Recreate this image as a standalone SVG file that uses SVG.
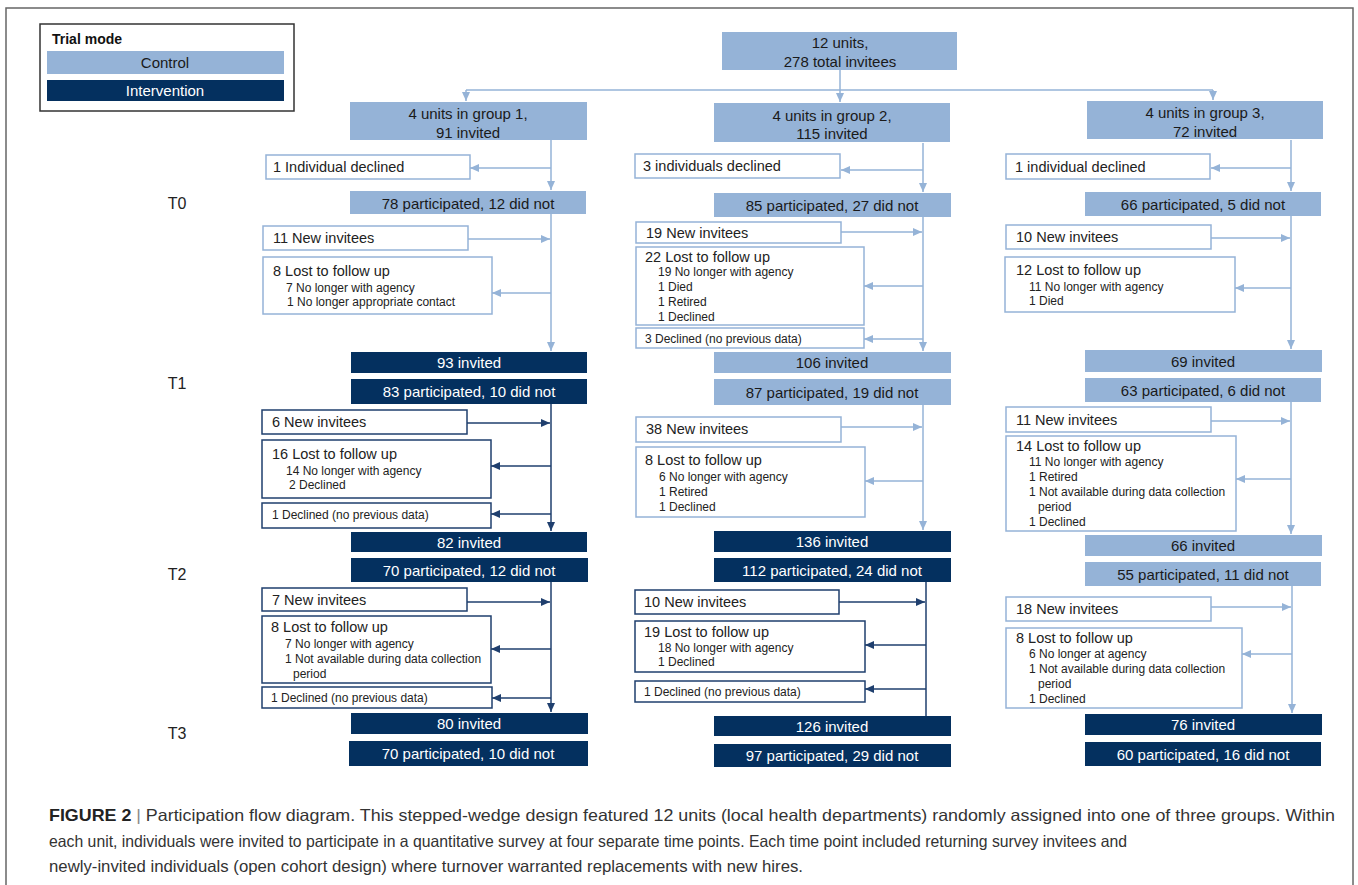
<svg xmlns="http://www.w3.org/2000/svg" width="1358" height="885" viewBox="0 0 1358 885">
<defs>
<style>
text{font-family:"Liberation Sans",Arial,sans-serif;dominant-baseline:central}
.lf{fill:#95B3D7}
.df{fill:#04305F}
.wl{fill:#fff;stroke:#95B3D7;stroke-width:1.5}
.wd{fill:#fff;stroke:#1F3F6E;stroke-width:1.5}
.cl{fill:none;stroke:#95B3D7;stroke-width:1.5}
.cd{fill:none;stroke:#1F3F6E;stroke-width:1.5}
.al{marker-end:url(#ml)}
.ad{marker-end:url(#md)}
.bt{font-size:15px;fill:#1a1a1a;text-anchor:middle}
.bw{font-size:15px;fill:#fff;text-anchor:middle}
.h{font-size:14.5px;fill:#222}
.s{font-size:12px;fill:#222}
.tl{font-size:16px;fill:#222;text-anchor:middle}
.cap{font-family:"Liberation Sans Narrow","Liberation Sans",Arial,sans-serif;font-size:16.5px;fill:#333;dominant-baseline:auto}
</style>
<marker id="ml" markerUnits="userSpaceOnUse" markerWidth="9" markerHeight="8" refX="9" refY="4" orient="auto"><path d="M0,0 L9,4 L0,8 z" fill="#95B3D7"/></marker>
<marker id="md" markerUnits="userSpaceOnUse" markerWidth="9" markerHeight="8" refX="9" refY="4" orient="auto"><path d="M0,0 L9,4 L0,8 z" fill="#1F3F6E"/></marker>
</defs>
<rect x="0" y="0" width="1358" height="885" fill="#fff"/>
<rect x="6" y="8" width="1347" height="900" fill="none" stroke="#666" stroke-width="1.5"/>

<g id="legend">
<rect x="40" y="24" width="254" height="87" fill="#fff" stroke="#333" stroke-width="1.5"/>
<text x="52" y="39" style="font-size:14px;font-weight:bold;fill:#111">Trial mode</text>
<rect x="47" y="51" width="237" height="23" class="lf"/>
<text x="165" y="62.5" class="bt">Control</text>
<rect x="47" y="80" width="237" height="21" class="df"/>
<text x="165" y="90.5" class="bw">Intervention</text>
</g>

<g id="labels">
<text x="177" y="203" class="tl">T0</text>
<text x="177" y="383" class="tl">T1</text>
<text x="177" y="574" class="tl">T2</text>
<text x="177" y="733" class="tl">T3</text>
</g>

<g id="connectors">
<path class="cl al" d="M840,70 V102"/>
<path class="cl" d="M466,90 H1213"/>
<path class="cl al" d="M466,90 V101"/>
<path class="cl al" d="M1213,90 V100"/>
<path class="cl al" d="M551,140 V190"/>
<path class="cl al" d="M551,168 H470"/>
<path class="cl al" d="M551,214 V351"/>
<path class="cl al" d="M468,239 H550"/>
<path class="cl al" d="M551,293 H492"/>
<path class="cd ad" d="M551,404 V531"/>
<path class="cd ad" d="M467,423 H550"/>
<path class="cd ad" d="M551,466 H491"/>
<path class="cd ad" d="M551,514 H491"/>
<path class="cd ad" d="M551,582 V712"/>
<path class="cd ad" d="M467,602 H550"/>
<path class="cd ad" d="M551,649 H491"/>
<path class="cd ad" d="M551,698 H492"/>
<path class="cl al" d="M923,143 V192"/>
<path class="cl al" d="M923,170 H841"/>
<path class="cl al" d="M923,217 V351"/>
<path class="cl al" d="M841,232 H922"/>
<path class="cl al" d="M923,286 H864"/>
<path class="cl al" d="M923,339 H864"/>
<path class="cl al" d="M923,405 V530"/>
<path class="cl al" d="M841,427 H922"/>
<path class="cl al" d="M923,481 H865"/>
<path class="cd" d="M926,582 V716"/>
<path class="cd ad" d="M839,602 H925"/>
<path class="cd ad" d="M926,645 H865"/>
<path class="cd ad" d="M926,689 H865"/>
<path class="cl al" d="M1291,140 V191"/>
<path class="cl al" d="M1291,168 H1211"/>
<path class="cl al" d="M1291,216 V349"/>
<path class="cl al" d="M1211,238 H1290"/>
<path class="cl al" d="M1291,288 H1235"/>
<path class="cl al" d="M1291,402 V534"/>
<path class="cl al" d="M1211,421 H1290"/>
<path class="cl al" d="M1291,479 H1236"/>
<path class="cl al" d="M1292,586 V713"/>
<path class="cl al" d="M1211,607 H1291"/>
<path class="cl al" d="M1292,654 H1242"/>
</g>

<g id="n-top"><rect x="722" y="32" width="235" height="38" class="lf"/><text x="840" y="42" class="bt">12 units,</text><text x="840" y="61" class="bt">278 total invitees</text></g>
<g id="n-g1"><rect x="350" y="102" width="237" height="38" class="lf"/><text x="468" y="113" class="bt">4 units in group 1,</text><text x="468" y="132" class="bt">91 invited</text></g>
<g id="n-g2"><rect x="714" y="103" width="236" height="39" class="lf"/><text x="832" y="115" class="bt">4 units in group 2,</text><text x="832" y="133" class="bt">115 invited</text></g>
<g id="n-g3"><rect x="1087" y="101" width="236" height="38" class="lf"/><text x="1205" y="112" class="bt">4 units in group 3,</text><text x="1205" y="131" class="bt">72 invited</text></g>

<g id="n-d1"><rect x="266" y="155" width="204" height="24" class="wl"/><text x="273" y="167" class="h">1 Individual declined</text></g>
<g id="n-d2"><rect x="635" y="154" width="205" height="24" class="wl"/><text x="643" y="166" class="h">3 individuals declined</text></g>
<g id="n-d3"><rect x="1006" y="154" width="204" height="25" class="wl"/><text x="1015" y="167" class="h">1 individual declined</text></g>

<g id="n-p0a"><rect x="350" y="191" width="236" height="23" class="lf"/><text x="468" y="203" class="bt">78 participated, 12 did not</text></g>
<g id="n-p0b"><rect x="714" y="193" width="237" height="24" class="lf"/><text x="832" y="205" class="bt">85 participated, 27 did not</text></g>
<g id="n-p0c"><rect x="1085" y="192" width="236" height="24" class="lf"/><text x="1203" y="204" class="bt">66 participated, 5 did not</text></g>

<g id="n-new01a"><rect x="263" y="226" width="205" height="24" class="wl"/><text x="273" y="238" class="h">11 New invitees</text></g>
<g id="n-lost01a"><rect x="263" y="257" width="229" height="57" class="wl"/><text x="273" y="271" class="h">8 Lost to follow up</text><text x="286" y="288" class="s">7 No longer with agency</text><text x="287" y="302" class="s">1 No longer appropriate contact</text></g>
<g id="n-inv1a"><rect x="351" y="352" width="236" height="21" class="df"/><text x="469" y="362.5" class="bw">93 invited</text></g>
<g id="n-p1a"><rect x="351" y="379" width="236" height="25" class="df"/><text x="469" y="391" class="bw">83 participated, 10 did not</text></g>

<g id="n-new12a"><rect x="262" y="410" width="205" height="24" class="wd"/><text x="272" y="422" class="h">6 New invitees</text></g>
<g id="n-lost12a"><rect x="262" y="440" width="229" height="58" class="wd"/><text x="272" y="454" class="h">16 Lost to follow up</text><text x="286" y="471" class="s">14 No longer with agency</text><text x="289" y="485" class="s">2 Declined</text></g>
<g id="n-dec12a"><rect x="262" y="503" width="229" height="25" class="wd"/><text x="272" y="515" class="s">1 Declined (no previous data)</text></g>
<g id="n-inv2a"><rect x="351" y="532" width="236" height="20" class="df"/><text x="469" y="542" class="bw">82 invited</text></g>
<g id="n-p2a"><rect x="351" y="558" width="237" height="24" class="df"/><text x="469" y="570" class="bw">70 participated, 12 did not</text></g>

<g id="n-new23a"><rect x="262" y="588" width="205" height="23" class="wd"/><text x="272" y="600" class="h">7 New invitees</text></g>
<g id="n-lost23a"><rect x="262" y="616" width="229" height="67" class="wd"/><text x="271" y="627" class="h">8 Lost to follow up</text><text x="285" y="644" class="s">7 No longer with agency</text><text x="285" y="659" class="s">1 Not available during data collection</text><text x="293" y="674" class="s">period</text></g>
<g id="n-dec23a"><rect x="262" y="687" width="230" height="21" class="wd"/><text x="271" y="698" class="s">1 Declined (no previous data)</text></g>
<g id="n-inv3a"><rect x="351" y="713" width="237" height="21" class="df"/><text x="469" y="723.5" class="bw">80 invited</text></g>
<g id="n-p3a"><rect x="349" y="741" width="239" height="25" class="df"/><text x="468" y="753" class="bw">70 participated, 10 did not</text></g>

<g id="n-new01b"><rect x="636" y="222" width="205" height="21" class="wl"/><text x="646" y="232.5" class="h">19 New invitees</text></g>
<g id="n-lost01b"><rect x="636" y="247" width="228" height="78" class="wl"/><text x="645" y="257" class="h">22 Lost to follow up</text><text x="658" y="272" class="s">19 No longer with agency</text><text x="658" y="287" class="s">1 Died</text><text x="658" y="302" class="s">1 Retired</text><text x="658" y="317" class="s">1 Declined</text></g>
<g id="n-dec01b"><rect x="636" y="328" width="228" height="20" class="wl"/><text x="645" y="338.5" class="s">3 Declined (no previous data)</text></g>
<g id="n-inv1b"><rect x="714" y="352" width="237" height="21" class="lf"/><text x="832" y="362.5" class="bt">106 invited</text></g>
<g id="n-p1b"><rect x="714" y="379" width="237" height="26" class="lf"/><text x="832" y="392" class="bt">87 participated, 19 did not</text></g>

<g id="n-new12b"><rect x="636" y="417" width="205" height="25" class="wl"/><text x="646" y="429" class="h">38 New invitees</text></g>
<g id="n-lost12b"><rect x="636" y="447" width="229" height="70" class="wl"/><text x="645" y="460" class="h">8 Lost to follow up</text><text x="659" y="477" class="s">6 No longer with agency</text><text x="659" y="492" class="s">1 Retired</text><text x="659" y="507" class="s">1 Declined</text></g>
<g id="n-inv2b"><rect x="714" y="531" width="237" height="21" class="df"/><text x="832" y="541.5" class="bw">136 invited</text></g>
<g id="n-p2b"><rect x="714" y="558" width="237" height="24" class="df"/><text x="832" y="570" class="bw">112 participated, 24 did not</text></g>

<g id="n-new23b"><rect x="635" y="590" width="204" height="24" class="wd"/><text x="644" y="602" class="h">10 New invitees</text></g>
<g id="n-lost23b"><rect x="635" y="621" width="230" height="51" class="wd"/><text x="644" y="632" class="h">19 Lost to follow up</text><text x="658" y="648" class="s">18 No longer with agency</text><text x="658" y="662" class="s">1 Declined</text></g>
<g id="n-dec23b"><rect x="635" y="681" width="230" height="21" class="wd"/><text x="644" y="691.5" class="s">1 Declined (no previous data)</text></g>
<g id="n-inv3b"><rect x="714" y="716" width="237" height="20" class="df"/><text x="832" y="726" class="bw">126 invited</text></g>
<g id="n-p3b"><rect x="714" y="744" width="237" height="23" class="df"/><text x="832" y="755.5" class="bw">97 participated, 29 did not</text></g>

<g id="n-new01c"><rect x="1006" y="225" width="205" height="24" class="wl"/><text x="1016" y="237" class="h">10 New invitees</text></g>
<g id="n-lost01c"><rect x="1005" y="257" width="230" height="55" class="wl"/><text x="1016" y="270" class="h">12 Lost to follow up</text><text x="1029" y="287" class="s">11 No longer with agency</text><text x="1029" y="301" class="s">1 Died</text></g>
<g id="n-inv1c"><rect x="1085" y="350" width="237" height="22" class="lf"/><text x="1203" y="361" class="bt">69 invited</text></g>
<g id="n-p1c"><rect x="1085" y="378" width="236" height="24" class="lf"/><text x="1203" y="390" class="bt">63 participated, 6 did not</text></g>

<g id="n-new12c"><rect x="1006" y="407" width="205" height="25" class="wl"/><text x="1016" y="420" class="h">11 New invitees</text></g>
<g id="n-lost12c"><rect x="1006" y="436" width="230" height="95" class="wl"/><text x="1016" y="446" class="h">14 Lost to follow up</text><text x="1029" y="462" class="s">11 No longer with agency</text><text x="1029" y="477" class="s">1 Retired</text><text x="1029" y="492" class="s">1 Not available during data collection</text><text x="1038" y="507" class="s">period</text><text x="1029" y="522" class="s">1 Declined</text></g>
<g id="n-inv2c"><rect x="1085" y="535" width="237" height="21" class="lf"/><text x="1203" y="545.5" class="bt">66 invited</text></g>
<g id="n-p2c"><rect x="1085" y="562" width="236" height="24" class="lf"/><text x="1203" y="574" class="bt">55 participated, 11 did not</text></g>

<g id="n-new23c"><rect x="1006" y="597" width="205" height="24" class="wl"/><text x="1016" y="609" class="h">18 New invitees</text></g>
<g id="n-lost23c"><rect x="1006" y="628" width="236" height="80" class="wl"/><text x="1016" y="638" class="h">8 Lost to follow up</text><text x="1029" y="654" class="s">6 No longer at agency</text><text x="1029" y="669" class="s">1 Not available during data collection</text><text x="1038" y="684" class="s">period</text><text x="1029" y="699" class="s">1 Declined</text></g>
<g id="n-inv3c"><rect x="1085" y="714" width="237" height="21" class="df"/><text x="1203" y="724.5" class="bw">76 invited</text></g>
<g id="n-p3c"><rect x="1085" y="742" width="236" height="24" class="df"/><text x="1203" y="754" class="bw">60 participated, 16 did not</text></g>

<g id="caption">
<text x="49" y="821" class="cap" textLength="1286" lengthAdjust="spacingAndGlyphs"><tspan font-weight="bold" fill="#222">FIGURE 2</tspan><tspan fill="#888"> | </tspan>Participation flow diagram. This stepped-wedge design featured 12 units (local health departments) randomly assigned into one of three groups. Within</text>
<text x="49" y="847" class="cap" textLength="1078" lengthAdjust="spacingAndGlyphs">each unit, individuals were invited to participate in a quantitative survey at four separate time points. Each time point included returning survey invitees and</text>
<text x="49" y="872" class="cap" textLength="754" lengthAdjust="spacingAndGlyphs">newly-invited individuals (open cohort design) where turnover warranted replacements with new hires.</text>
</g>
</svg>
